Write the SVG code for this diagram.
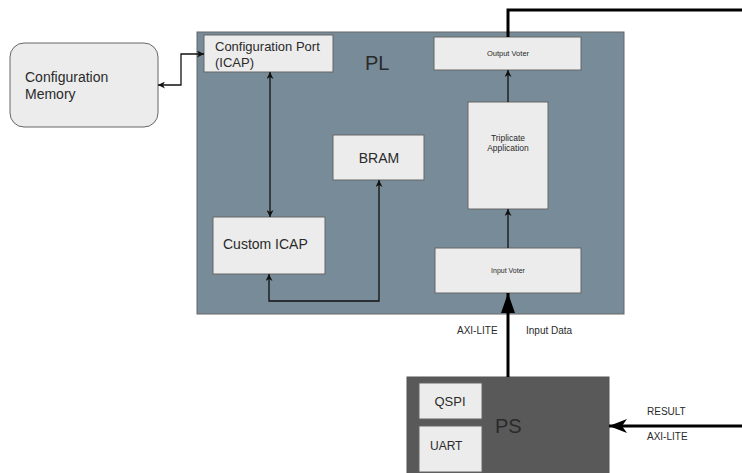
<svg xmlns="http://www.w3.org/2000/svg" width="742" height="473" viewBox="0 0 742 473">
<style>
.box{fill:#ececec;stroke:#666;stroke-width:1}
.t{font-family:"Liberation Sans",Arial,sans-serif;fill:#2a2a2a}
.ln{fill:none;stroke:#111;stroke-width:1.3}
.thick{fill:none;stroke:#000;stroke-width:3}
</style>
<defs>
<marker id="ah" viewBox="0 0 10 10" refX="10" refY="5" markerWidth="7" markerHeight="7" markerUnits="userSpaceOnUse" orient="auto-start-reverse">
<path d="M0,0 L10,5 L0,10 L3,5 Z" fill="#111"/>
</marker>
<marker id="big" viewBox="0 0 20 14" refX="20" refY="7" markerWidth="20" markerHeight="14" markerUnits="userSpaceOnUse" orient="auto">
<path d="M0,0 L20,7 L0,14 Z" fill="#000"/>
</marker>
<marker id="open" viewBox="0 0 18 14" refX="18" refY="7" markerWidth="18" markerHeight="14" markerUnits="userSpaceOnUse" orient="auto">
<path d="M0,0 L18,7 L0,14 L5,7 Z" fill="#000"/>
</marker>
</defs>
<rect width="742" height="473" fill="#fff"/>
<g id="PL">
<rect x="197" y="32" width="427" height="282" fill="#778c98" stroke="#666"/>
<text class="t" x="365" y="70" font-size="20">PL</text>
</g>
<g id="PS">
<rect x="407" y="377" width="202" height="100" fill="#595959" stroke="#555"/>
<text class="t" x="495" y="433" font-size="20">PS</text>
</g>
<g id="ConfigMemory">
<rect x="10" y="43" width="148" height="84" rx="14" ry="14" fill="#ececec" stroke="#666"/>
<text class="t" x="25" y="82" font-size="14">Configuration</text>
<text class="t" x="25" y="99" font-size="14">Memory</text>
</g>
<g id="ConfigPort">
<rect class="box" x="204" y="35" width="129" height="37"/>
<text class="t" x="215" y="51" font-size="13">Configuration Port</text>
<text class="t" x="215" y="67" font-size="13">(ICAP)</text>
</g>
<g id="BRAM">
<rect class="box" x="333" y="135" width="91" height="45"/>
<text class="t" x="379" y="163" font-size="14" text-anchor="middle">BRAM</text>
</g>
<g id="CustomICAP">
<rect class="box" x="213" y="217" width="112" height="57"/>
<text class="t" x="223" y="249" font-size="14">Custom ICAP</text>
</g>
<g id="OutputVoter">
<rect class="box" x="434" y="37" width="147" height="33"/>
<text class="t" x="508" y="56" font-size="7.5" text-anchor="middle">Output Voter</text>
</g>
<g id="Triplicate">
<rect class="box" x="468" y="102" width="80" height="107"/>
<text class="t" x="508" y="141" font-size="8.5" text-anchor="middle">Triplicate</text>
<text class="t" x="508" y="151" font-size="8.5" text-anchor="middle">Application</text>
</g>
<g id="InputVoter">
<rect class="box" x="435" y="248" width="146" height="45"/>
<text class="t" x="508" y="273" font-size="7" text-anchor="middle">Input Voter</text>
</g>
<g id="QSPI">
<rect class="box" x="419" y="383" width="63" height="36"/>
<text class="t" x="450" y="406" font-size="13" text-anchor="middle">QSPI</text>
</g>
<g id="UART">
<rect class="box" x="419" y="426" width="63" height="46"/>
<text class="t" x="430" y="450" font-size="12">UART</text>
</g>
<g id="connectors">
<path class="ln" d="M158,85 H181 V54 H204" marker-start="url(#ah)" marker-end="url(#ah)"/>
<path class="ln" d="M270,72 V217" marker-start="url(#ah)" marker-end="url(#ah)"/>
<path class="ln" d="M269,274 V301 H379 V180" marker-start="url(#ah)" marker-end="url(#ah)"/>
<path class="ln" d="M508,248 V209" marker-end="url(#ah)"/>
<path class="ln" d="M508,102 V70" marker-end="url(#ah)"/>
<path class="thick" d="M508,37 V10 H742"/>
<path class="thick" d="M508,377 V293" marker-end="url(#big)"/>
<path class="thick" d="M742,426 H609" marker-end="url(#open)"/>
<text class="t" x="457" y="334" font-size="10">AXI-LITE</text>
<text class="t" x="526" y="334" font-size="10">Input Data</text>
<text class="t" x="647" y="415" font-size="10">RESULT</text>
<text class="t" x="647" y="440" font-size="10">AXI-LITE</text>
</g>
</svg>
